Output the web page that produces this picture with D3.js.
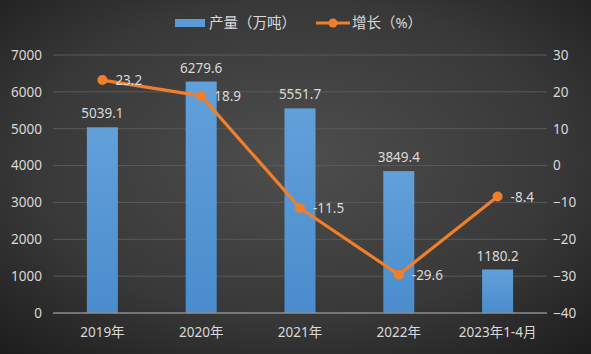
<!DOCTYPE html>
<html><head><meta charset="utf-8">
<script src="https://cdn.jsdelivr.net/npm/d3@7"></script>
<style>html,body{margin:0;padding:0;background:#222;}svg{display:block;}</style>
</head><body>
<svg id="c" width="591" height="354"></svg>
<script>
const categories = ["2019年","2020年","2021年","2022年","2023年1-4月"];
const output = [5039.1, 6279.6, 5551.7, 3849.4, 1180.2];
const growth = [23.2, 18.9, -11.5, -29.6, -8.4];
const leftTicks = [0,1000,2000,3000,4000,5000,6000,7000];
const rightTicks = [-40,-30,-20,-10,0,10,20,30];
const seriesNames = ["产量（万吨）","增长（%）"];

const W=591,H=354;
const svg=d3.select("#c");
const font='"Noto Sans","Noto Sans CJK SC",sans-serif';
const defs=svg.append("defs");
const rg=defs.append("radialGradient").attr("id","bg").attr("cx","50%").attr("cy","45%").attr("r","75%");
rg.append("stop").attr("offset","0%").attr("stop-color","#4e4e4e");
rg.append("stop").attr("offset","60%").attr("stop-color","#383838");
rg.append("stop").attr("offset","100%").attr("stop-color","#1c1c1c");
const bg=defs.append("linearGradient").attr("id","bar").attr("x1",0).attr("x2",0).attr("y1",0).attr("y2",1);
bg.append("stop").attr("offset","0%").attr("stop-color","#62a0da");
bg.append("stop").attr("offset","100%").attr("stop-color","#4a8ccd");
svg.append("rect").attr("width",W).attr("height",H).attr("fill","url(#bg)");

const x0=53,x1=547,yTop=55,yBot=313;
const x=d3.scaleBand().domain(categories).range([x0,x1]);
const yL=d3.scaleLinear().domain([0,7000]).range([yBot,yTop]);
const yR=d3.scaleLinear().domain([-40,30]).range([yBot,yTop]);

// grid
svg.append("g").selectAll("line").data(leftTicks.filter(d=>d>0)).join("line")
 .attr("x1",x0).attr("x2",x1).attr("y1",d=>yL(d)).attr("y2",d=>yL(d))
 .attr("stroke","#5a5a5a").attr("stroke-width",1);

// left axis
const gl=svg.append("g").attr("transform",`translate(${x0},0)`)
 .call(d3.axisLeft(yL).tickValues(leftTicks).tickFormat(d3.format("d")).tickSize(0).tickPadding(11));
gl.select(".domain").remove();
gl.selectAll("text").attr("fill","#d9d9d9").style("font-size","13.5px").style("font-family",font);
// right axis
const gr=svg.append("g").attr("transform",`translate(${x1},0)`)
 .call(d3.axisRight(yR).tickValues(rightTicks).tickFormat(d3.format("d")).tickSize(0).tickPadding(6));
gr.select(".domain").remove();
gr.selectAll("text").attr("fill","#d9d9d9").style("font-size","13.5px").style("font-family",font);

// bars
const bw=31;
svg.append("g").selectAll("rect").data(output).join("rect")
 .attr("x",(d,i)=>x(categories[i])+x.bandwidth()/2-bw/2)
 .attr("width",bw).attr("y",d=>yL(d)).attr("height",d=>yBot-yL(d))
 .attr("fill","url(#bar)");

// baseline
svg.append("line").attr("x1",x0).attr("x2",x1).attr("y1",yBot).attr("y2",yBot)
 .attr("stroke","#8c8c8c").attr("stroke-width",1.5);

// x axis
const gx=svg.append("g").attr("transform",`translate(0,${yBot})`)
 .call(d3.axisBottom(x).tickSize(0).tickPadding(14));
gx.select(".domain").remove();
gx.selectAll("text").attr("fill","#d9d9d9").style("font-size","13.5px").style("font-family",font);

// bar labels
svg.append("g").selectAll("text").data(output).join("text")
 .attr("x",(d,i)=>x(categories[i])+x.bandwidth()/2)
 .attr("y",d=>yL(d)-9).attr("text-anchor","middle")
 .attr("fill","#d9d9d9").style("font-size","13.5px").style("font-family",font)
 .text(d=>d.toFixed(1));

// line
const cx=(i)=>x(categories[i])+x.bandwidth()/2;
const line=d3.line().x((d,i)=>cx(i)).y(d=>yR(d));
svg.append("path").datum(growth).attr("d",line).attr("fill","none")
 .attr("stroke","#f07f2c").attr("stroke-width",3.2).attr("stroke-linejoin","round");
svg.append("g").selectAll("circle").data(growth).join("circle")
 .attr("cx",(d,i)=>cx(i)).attr("cy",d=>yR(d)).attr("r",5).attr("fill","#f07f2c");
svg.append("g").selectAll("text").data(growth).join("text")
 .attr("x",(d,i)=>cx(i)+13).attr("y",d=>yR(d)+5)
 .attr("fill","#d9d9d9").style("font-size","13.5px").style("font-family",font)
 .text(d=>d.toFixed(1));

// legend
const lg=svg.append("g").style("font-family",font).style("font-size","14.5px");
lg.append("rect").attr("x",175).attr("y",19).attr("width",30).attr("height",8).attr("fill","#5b9bd5");
lg.append("text").attr("x",209).attr("y",28).attr("fill","#d9d9d9").text(seriesNames[0]);
lg.append("line").attr("x1",316).attr("x2",350).attr("y1",23).attr("y2",23).attr("stroke","#f07f2c").attr("stroke-width",3.2);
lg.append("circle").attr("cx",333).attr("cy",23).attr("r",4.5).attr("fill","#f07f2c");
lg.append("text").attr("x",352).attr("y",28).attr("fill","#d9d9d9").text(seriesNames[1]);
</script>
</body></html>
